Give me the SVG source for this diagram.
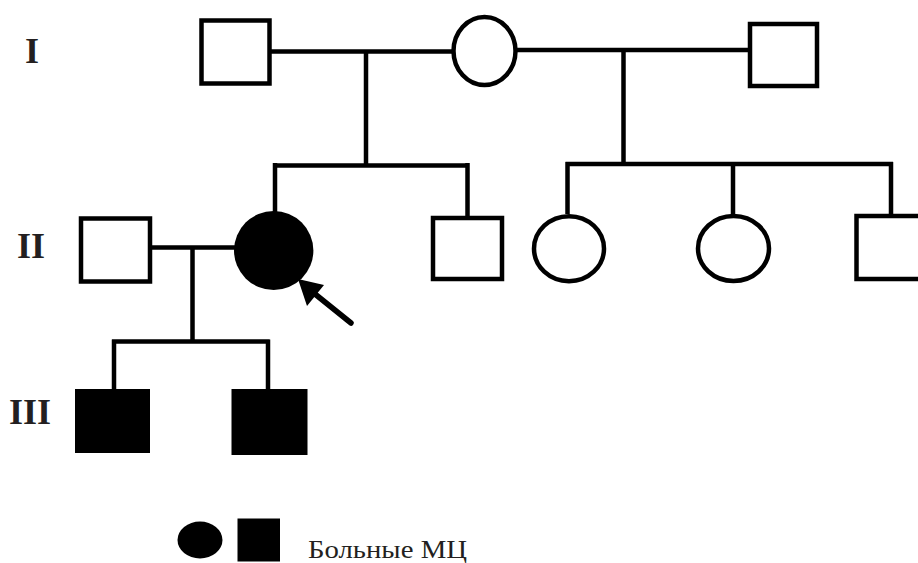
<svg xmlns="http://www.w3.org/2000/svg" width="918" height="563" viewBox="0 0 918 563">
<style>
.n{fill:#fff;stroke:#000;stroke-width:4.5}
.a{fill:#000;stroke:none}
.c{fill:none;stroke:#000;stroke-width:4.5}
.g{font-family:"Liberation Serif","Times New Roman",serif;font-weight:bold;font-size:36px;fill:#231f20}
.t{font-family:"Liberation Serif","Times New Roman",serif;font-size:26px;fill:#231f20}
</style>
<rect width="918" height="563" fill="#fff"/>
<g id="connectors">
<path class="c" d="M270 51.5H454M366 51.5V165.5M273 165.5H469.5M275 163V212M467.5 163V216"/>
<path class="c" d="M515 50H750M623.5 50V164M565.5 164H893M567.5 162V214M733 162V214M891 162V214"/>
<path class="c" d="M150 247.5H236M192.5 247.5V342M112 341.5H269.5M114 339.5V390M268 339.5V390"/>
<path d="M351 323L310 290" stroke="#000" stroke-width="5.5" stroke-linecap="round" fill="none"/>
<polygon class="a" points="298,279 324,285 307,306"/>
</g>
<g id="gen-labels">
<text class="g" x="25" y="63">I</text>
<text class="g" x="17" y="258">II</text>
<text class="g" x="9" y="424">III</text>
</g>
<g id="I-1"><rect class="n" x="201.5" y="20.5" width="68" height="63"/></g>
<g id="I-2"><ellipse class="n" cx="484.5" cy="51" rx="31" ry="34"/></g>
<g id="I-3"><rect class="n" x="750" y="24" width="67" height="62"/></g>
<g id="II-1"><rect class="n" x="81" y="218.5" width="69" height="63"/></g>
<g id="II-2"><ellipse class="a" cx="273.7" cy="250.5" rx="39.7" ry="39.5"/></g>
<g id="II-3"><rect class="n" x="433" y="218" width="69" height="61"/></g>
<g id="II-4"><ellipse class="n" cx="569" cy="248.7" rx="35" ry="32.5"/></g>
<g id="II-5"><ellipse class="n" cx="733.5" cy="248.5" rx="35.5" ry="32.5"/></g>
<g id="II-6"><rect class="n" x="856.5" y="216" width="70" height="63"/></g>
<g id="III-1"><rect class="a" x="75" y="389" width="75" height="64"/></g>
<g id="III-2"><rect class="a" x="231.5" y="389" width="76" height="66"/></g>
<g id="legend">
<ellipse class="a" cx="200" cy="540" rx="22.5" ry="18.5"/>
<rect class="a" x="237.5" y="518.5" width="42.5" height="43"/>
<text class="t" x="308" y="557.5" textLength="159" lengthAdjust="spacingAndGlyphs">Больные МЦ</text>
</g>
</svg>
